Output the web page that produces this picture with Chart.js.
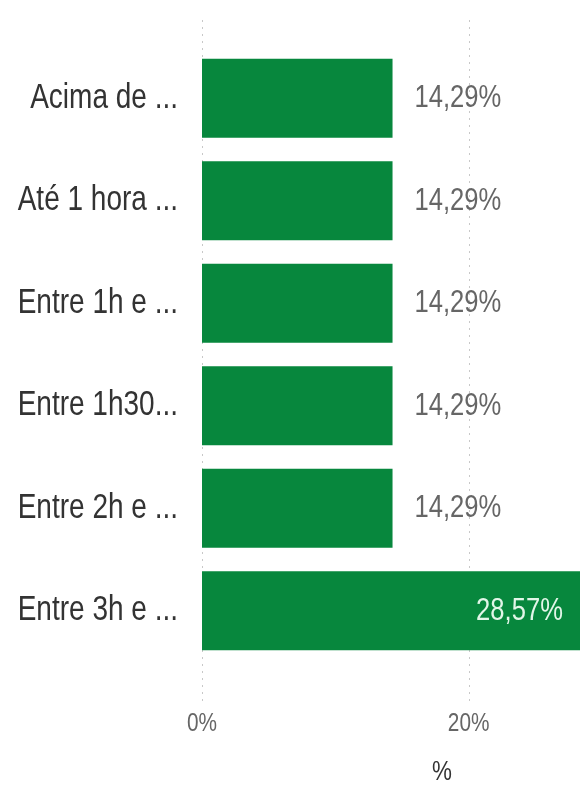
<!DOCTYPE html>
<html>
<head>
<meta charset="utf-8">
<script src="https://cdn.jsdelivr.net/npm/chart.js@4"></script>
<style>
  html, body { margin: 0; padding: 0; background: #ffffff; overflow: hidden; }
  #wrap { position: relative; width: 682px; height: 785px; }
</style>
</head>
<body>
<div id="wrap"><canvas id="c"></canvas></div>
<script>
const categories = ["Acima de ...", "Até 1 hora ...", "Entre 1h e ...", "Entre 1h30...", "Entre 2h e ...", "Entre 3h e ..."];
const percentValues = [14.29, 14.29, 14.29, 14.29, 14.29, 28.57];
const xTickValues = [0, 20];
const axisTitle = "%";

const FONT = "'Liberation Sans', Arial, sans-serif";
const SX = 0.8; // condensed text look (horizontal text squeeze)
const BAR_COLOR = '#07873D';

function fmt(v) { return v.toFixed(2).replace('.', ',') + '%'; }

const condensedText = {
  id: 'condensedText',
  beforeInit(chart) {
    const ctx = chart.ctx;
    const orig = ctx.fillText.bind(ctx);
    ctx.fillText = function (text, x, y, maxWidth) {
      this.save();
      this.translate(x, y);
      this.scale(SX, 1);
      if (maxWidth === undefined) orig(text, 0, 0);
      else orig(text, 0, 0, maxWidth / SX);
      this.restore();
    };
  }
};

const gridPlugin = {
  id: 'dottedGrid',
  beforeDatasetsDraw(chart) {
    const { ctx, chartArea, scales } = chart;
    ctx.save();
    ctx.strokeStyle = '#c8c8c8';
    ctx.lineWidth = 1;
    ctx.setLineDash([2, 5]);
    scales.x.ticks.forEach(t => {
      const x = Math.round(scales.x.getPixelForValue(t.value)) + 0.5;
      ctx.beginPath();
      ctx.moveTo(x, chartArea.top - 27);
      ctx.lineTo(x, chartArea.bottom + 43);
      ctx.stroke();
    });
    ctx.restore();
  }
};

const labelPlugin = {
  id: 'barLabels',
  afterDatasetsDraw(chart) {
    const { ctx, chartArea } = chart;
    const meta = chart.getDatasetMeta(0);
    ctx.save();
    ctx.font = "32px " + FONT;
    ctx.textBaseline = 'middle';
    meta.data.forEach((bar, i) => {
      const txt = fmt(percentValues[i]);
      const w = ctx.measureText(txt).width * SX;
      const endX = bar.x;
      if (endX + 22 + w > chartArea.right) {
        ctx.fillStyle = '#e2f6e8';
        ctx.textAlign = 'right';
        ctx.fillText(txt, endX - 20, bar.y);
      } else {
        ctx.fillStyle = '#666666';
        ctx.textAlign = 'left';
        ctx.fillText(txt, endX + 22, bar.y);
      }
    });
    ctx.restore();
  }
};

new Chart(document.getElementById('c'), {
  type: 'bar',
  data: {
    labels: categories,
    datasets: [{
      data: percentValues,
      backgroundColor: BAR_COLOR,
      borderWidth: 0,
      barPercentage: 0.77,
      categoryPercentage: 1.0
    }]
  },
  options: {
    indexAxis: 'y',
    responsive: true,
    maintainAspectRatio: false,
    animation: false,
    layout: { padding: { top: 47, right: 0, bottom: 0, left: 0 } },
    plugins: {
      legend: { display: false },
      tooltip: { enabled: false }
    },
    scales: {
      x: {
        min: 0,
        max: 36,
        afterBuildTicks(scale) { scale.ticks = xTickValues.map(v => ({ value: v })); },
        afterFit(scale) { scale.height = 123; },
        grid: { display: false, drawTicks: false },
        border: { display: false },
        ticks: {
          padding: 46,
          color: '#666666',
          font: { family: FONT, size: 26 },
          callback: v => v + '%'
        },
        title: {
          display: true,
          text: axisTitle,
          color: '#333333',
          font: { family: FONT, size: 28, lineHeight: 0.9 },
          padding: { top: 0, bottom: 0 }
        }
      },
      y: {
        afterFit(scale) { scale.width = 202; },
        grid: { display: false, drawTicks: false },
        border: { display: false },
        ticks: {
          padding: 24,
          color: '#333333',
          font: { family: FONT, size: 35 }
        }
      }
    }
  },
  plugins: [condensedText, gridPlugin, labelPlugin]
});
</script>
</body>
</html>
